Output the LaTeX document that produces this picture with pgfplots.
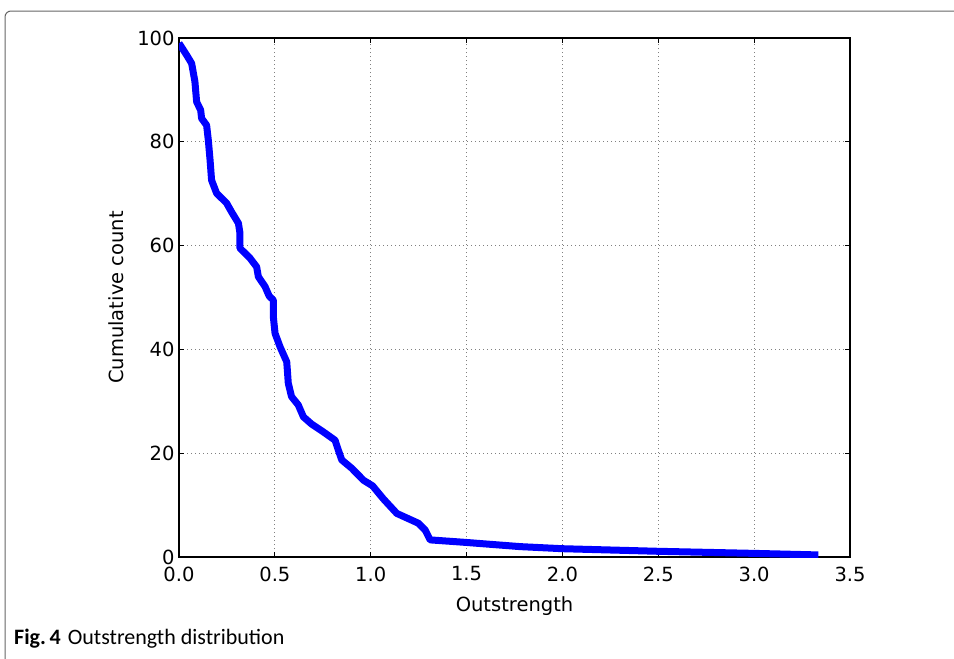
\documentclass[border=0pt]{standalone}
\usepackage{fontspec}
\setmainfont{DejaVu Sans}
\newfontfamily\capfont{Carlito}
\usepackage{pgfplots}
\pgfplotsset{compat=1.18}
\begin{document}
\begin{tikzpicture}
\path[use as bounding box] (0,0) rectangle (954bp,-659bp);
\draw[black!60, line width=1bp] (954bp,-11bp) -- (11bp,-11bp) arc[start angle=90,end angle=180,radius=6bp] -- (5bp,-659bp);
\begin{axis}[
  scale only axis, width=671bp, height=519bp,
  at={(179bp,-557bp)}, anchor=south west,
  xmin=0, xmax=3.5, ymin=0, ymax=100,
  xtick={0,0.5,1,1.5,2,2.5,3,3.5},
  ytick={0,20,40,60,80,100},
  /pgf/number format/assume math mode=true,
  xticklabel style={/pgf/number format/.cd, fixed, fixed zerofill, precision=1, /tikz/.cd, yshift=-6bp},
  yticklabel style={/pgf/number format/.cd, fixed, precision=0, /tikz/.cd, xshift=-1bp},
  ticklabel style={font=\fontsize{19.5bp}{22bp}\selectfont},
  label style={font=\fontsize{19.5bp}{22bp}\selectfont},
  tick align=inside, major tick length=5bp,
  tick style={black, line width=0.8bp},
  axis line style={black, line width=1.1bp},
  grid=major,
  major grid style={black!50, line width=0.9bp, dash pattern=on 1bp off 3bp},
  xlabel={Outstrength},
  ylabel={Cumulative count},
  xlabel style={at={(axis description cs:0.5,-0.0945)}, anchor=center},
  ylabel style={at={(axis description cs:-0.0939,0.5)}, anchor=center},
]
\addplot[color=blue, line width=7bp, line join=round, line cap=butt] coordinates {
(0.000,99.0) (0.040,96.7) (0.066,95.1) (0.083,91.6) (0.092,87.7) (0.113,86.1)
(0.118,84.5) (0.144,83.2) (0.153,80.3) (0.162,76.5) (0.170,72.6) (0.196,70.1)
(0.248,68.2) (0.274,66.5) (0.310,64.3) (0.318,62.4) (0.318,59.5) (0.370,57.6)
(0.405,55.9) (0.414,54.0) (0.449,52.1) (0.470,50.3) (0.492,49.5) (0.492,46.3)
(0.501,43.1) (0.527,40.5) (0.562,37.6) (0.570,33.5) (0.587,30.9) (0.622,29.3)
(0.649,27.0) (0.692,25.6) (0.753,24.1) (0.814,22.5) (0.831,20.6) (0.849,18.7)
(0.901,17.1) (0.962,14.8) (1.010,13.7) (1.066,11.2) (1.136,8.4) (1.249,6.5)
(1.284,5.2) (1.310,3.3) (1.500,2.8) (1.780,2.0) (2.000,1.6) (2.400,1.2)
(2.500,1.1) (3.000,0.7) (3.335,0.4)
};
\end{axis}
\node[anchor=west, inner sep=0pt] at (14bp,-639bp) {\capfont\fontsize{22bp}{26bp}\selectfont\textbf{Fig.\,4}\hspace{7bp}Outstrength distribution};
\end{tikzpicture}
\end{document}
